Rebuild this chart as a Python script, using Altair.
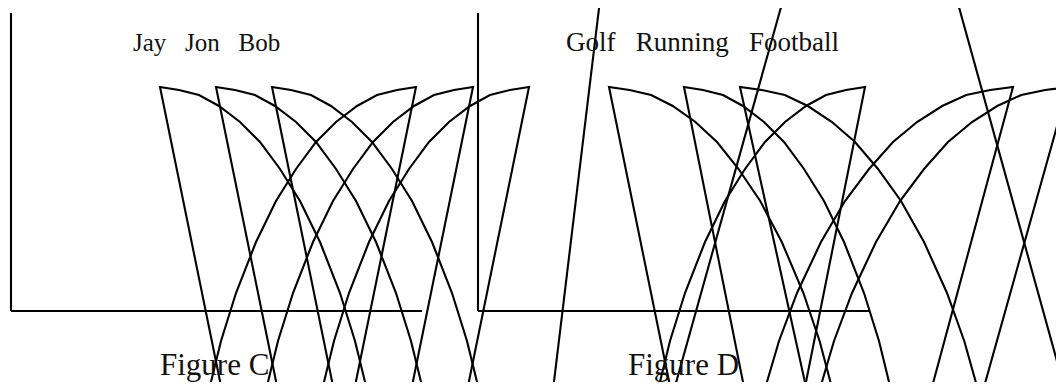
import altair as alt
import pandas as pd

# ---- sector outlines (one top corner each, straight edge + curved edge) ----
CORNER_X = [160, 216, 272, 416, 473, 529, 609, 684, 740, 865, 1013, 1068]
CORNER_Y = [87, 87, 87, 87, 87, 87, 87, 87, 87, 87, 87, 87]
DIRECTION = [1, 1, 1, -1, -1, -1, 1, 1, 1, -1, -1, -1]
ARC_SPREAD = [1, 1, 1, 1, 1, 1, 1.08, 1.0, 1.15, 1.0, 1.2, 1.2]
EDGE_SLOPE = [0.204, 0.204, 0.204, 0.204, 0.204, 0.204, 0.204, 0.2, 0.22, 0.2, 0.27, 0.28]

# curved edge (offset from the corner)
ARC_DX = [0, 19, 39, 59, 80, 100, 120, 140, 160, 180, 195, 207, 209]
ARC_DY = [0, 3, 8, 19, 35, 55, 82, 114, 155, 206, 254, 303, 315]

# ---- long stray strokes in figure D ----
LONG_X_TOP = [600, 783, 957]
LONG_X_BOTTOM = [553, 674, 1065]
LONG_Y_TOP = [0, 0, 0]
LONG_Y_BOTTOM = [390, 390, 390]

# ---- frames ----
FRAME_X = [11, 478]
FRAME_END = [422, 870]
FRAME_TOP = [13, 13]
FRAME_BASE = [311, 311]

# ---- texts ----
NB = "\u00a0\u00a0\u00a0"
LEGENDS = ["Jay" + NB + "Jon" + NB + "Bob", "Golf" + NB + "Running" + NB + "Football"]
LEGEND_X = [133, 566]
LEGEND_Y = [51, 51]
LEGEND_SIZE = [25, 27]
CAPTIONS = ["Figure C", "Figure D"]
CAPTION_X = [160, 628]
CAPTION_Y = [375, 375]

rows = []
for s in range(len(CORNER_X)):
    cx, cy, d = CORNER_X[s], CORNER_Y[s], DIRECTION[s]
    reach = ARC_DY[-1]
    rows.append({"shape": f"s{s}", "i": 0, "x": cx + d * EDGE_SLOPE[s] * reach, "y": cy + reach})
    for k in range(len(ARC_DX)):
        rows.append({"shape": f"s{s}", "i": k + 1,
                     "x": cx + d * ARC_SPREAD[s] * ARC_DX[k], "y": cy + ARC_DY[k]})
for j in range(len(LONG_X_TOP)):
    rows.append({"shape": f"l{j}", "i": 0, "x": LONG_X_TOP[j], "y": LONG_Y_TOP[j]})
    rows.append({"shape": f"l{j}", "i": 1, "x": LONG_X_BOTTOM[j], "y": LONG_Y_BOTTOM[j]})
lines_df = pd.DataFrame(rows)

frames_df = pd.DataFrame({"x": FRAME_X, "x2": FRAME_END, "top": FRAME_TOP, "base": FRAME_BASE})
legend_df = pd.DataFrame({"t": LEGENDS, "x": LEGEND_X, "y": LEGEND_Y, "s": LEGEND_SIZE})
caption_df = pd.DataFrame({"t": CAPTIONS, "x": CAPTION_X, "y": CAPTION_Y})

xs = alt.Scale(domain=[8, 1056], nice=False, zero=False)
ys = alt.Scale(domain=[8, 382], nice=False, zero=False, reverse=True)

def X(f):
    return alt.X(f, type="quantitative", scale=xs, axis=None)

def Y(f):
    return alt.Y(f, type="quantitative", scale=ys, axis=None)

shapes = alt.Chart(lines_df).mark_line(color="black", strokeWidth=2.1, strokeJoin="miter").encode(
    x=X("x"), y=Y("y"), detail="shape:N", order="i:Q"
)
vert = alt.Chart(frames_df).mark_rule(color="black", strokeWidth=2.1).encode(
    x=X("x"), y=Y("top"), y2="base"
)
horiz = alt.Chart(frames_df).mark_rule(color="black", strokeWidth=2.1).encode(
    x=X("x"), x2="x2", y=Y("base")
)
legend = alt.Chart(legend_df).mark_text(
    font="Liberation Serif", align="left", baseline="alphabetic", color="#111"
).encode(x=X("x"), y=Y("y"), text="t:N",
         size=alt.Size("s:Q", scale=None, legend=None))
caption = alt.Chart(caption_df).mark_text(
    font="Liberation Serif", fontSize=31, align="left", baseline="alphabetic", color="#111"
).encode(x=X("x"), y=Y("y"), text="t:N")

chart = alt.layer(vert, horiz, shapes, legend, caption).properties(
    width=1048, height=374, autosize=alt.AutoSizeParams(type="none"), padding=0
).configure_view(stroke=None)

chart.save("out.html", embed_options={"renderer": "svg", "actions": False})
